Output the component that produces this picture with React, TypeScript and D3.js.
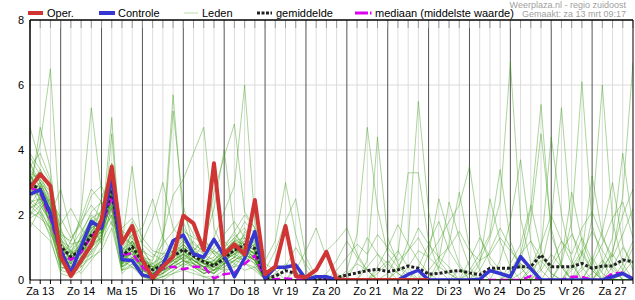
import React from "react";
import * as d3 from "d3";

const START = Date.UTC(2021, 2, 13, 6);
const END = Date.UTC(2021, 2, 28, 0);
const STEP = 6 * 3600 * 1000;

const dayLabels = ["Za 13", "Zo 14", "Ma 15", "Di 16", "Wo 17", "Do 18", "Vr 19", "Za 20", "Zo 21", "Ma 22", "Di 23", "Wo 24", "Do 25", "Vr 26", "Za 27"];
const yTicks = [0, 2, 4, 6, 8];

const oper = [2.82, 3.26, 2.89, 0.72, 0.12, 0.6, 1.08, 1.85, 3.49, 1.13, 1.66, 0.62, 0.05, 0.41, 0.72, 1.98, 1.74, 0.92, 3.59, 0.77, 1.1, 0.79, 2.46, 0.18, 0.41, 1.66, 0.12, 0.08, 0.31, 0.87, 0.02, 0, 0, 0, 0, 0, 0, 0, 0, 0];

const controle = [2.64, 2.77, 2.05, 0.92, 0.23, 1.03, 1.8, 1.59, 3.18, 0.62, 0.6, 0.15, 0.08, 0.46, 1.21, 1.38, 0.8, 0.7, 1.25, 0.74, 0.1, 0.67, 1.49, 0.05, 0.39, 0.39, 0.46, 0.02, 0.1, 0.1, 0, 0, 0, 0, 0, 0, 0, 0.17, 0.3, 0, 0, 0, 0, 0, 0.02, 0.29, 0.2, 0.1, 0.72, 0.35, 0, 0, 0, 0, 0, 0, 0, 0.1, 0.2, 0.02];

const gemiddelde = [2.97, 2.79, 2.0, 1.03, 0.72, 0.92, 1.38, 1.64, 2.77, 0.72, 1.03, 0.56, 0.31, 0.46, 0.72, 0.94, 0.74, 0.56, 0.43, 0.67, 0.92, 1.08, 0.97, 0.05, 0.12, 0.29, 0.2, 0.05, 0.05, 0.05, 0.07, 0.15, 0.22, 0.29, 0.33, 0.26, 0.31, 0.43, 0.36, 0.18, 0.2, 0.26, 0.29, 0.22, 0.16, 0.36, 0.36, 0.36, 0.41, 0.41, 0.77, 0.41, 0.41, 0.41, 0.51, 0.36, 0.43, 0.43, 0.62, 0.56];

const mediaan = [2.85, 2.7, 1.9, 0.85, 0.62, 0.85, 1.35, 1.6, 2.6, 0.77, 0.82, 0.4, 0.1, 0.36, 0.41, 0.33, 0.41, 0.41, 0.05, 0.18, 0.22, 0.5, 0.75, 0.02, 0.02, 0.05, 0.02, 0, 0, 0, 0, 0, 0, 0, 0, 0, 0, 0, 0, 0, 0, 0, 0, 0, 0, 0, 0, 0, 0, 0.12, 0, 0, 0, 0.1, 0.1, 0, 0, 0.2, 0.22, 0.05];

const leden: number[][] = [
  [4.7,3.6,3.0, 1.2,0.6,0.9, 1.3,1.8,2.4, 0.6,1.0,0.4,0.1,0.3, 0.5,0.9,0.5,0.3,0.2,0.6,0.8,1.0,1.2, 0,0,0,0.4,0,0,0,0, 0,0,0,0.3,0.6,0.2,0,0,0,0,0,0,0,0, 0,0,0,0.2,0.5,0,0,0,0.4,0.9,0.3,0,0,0,0],
  [2.6,4.7,3.4, 0.9,0.3,1.1, 1.7,1.4,3.1, 1.0,0.8,0.6,0.2,0.5, 0.9,1.3,0.8,0.6,0.4,0.9,1.1,0.7,0.5, 0,0.2,0.5,0.3,0,0,0,0, 0,0,0.4,0.8,0.5,0.2,0,0,0,0,0,0.3,0.2,0, 0,0.6,1.8,3.7,1.2,0.3,0,0,0,0,0.2,0.6,0.3,0,0],
  [3.4,3.0,2.2, 0.5,0.8,1.3, 1.9,1.6,5.0, 0.4,1.2,0.7,0.3,1.2, 5.7,1.8,0.9,0.5,0.3,0.7,0.9,1.1,0.6, 0,0,0,0,0,0.3,0.9,1.2, 1.6,0.8,0.3,0,0,0,0,0,0,0,0,0,0,0, 0,0,0,0,0,0.3,0.8,0.4,0,0,0,0,0,0.5,1.2],
  [2.2,2.5,2.0, 2.8,1.5,0.7, 1.0,1.3,2.5, 0.8,0.6,0.9,0.5,0.2, 0.6,0.4,0.7,0.5,0.9,1.2,0.8,0.6,1.4, 0,0,0,0,0,0,0,0, 0,0,0,0,0,0,0.4,0.9,0.7,1.2,1.8,2.3,3.5,1.4, 0.5,0.2,0,0,0,0,0,0,0,0.3,0.7,0.2,0,0,0],
  [3.0,4.2,6.5, 1.4,0.9,0.5, 0.9,1.9,2.9, 0.5,0.9,0.3,0.1,0.4, 0.7,0.9,1.2,0.8,0.4,0.3,0.6,0.8,0.9, 0,0,0,0,0,0,0,0, 0.3,1.4,4.7,2.2,0.8,0.4,0.2,0,0,0,0,0,0,0, 0,0,0,0,0.3,0.6,0.2,0,0,0,0,0.4,0.8,0.3,0],
  [2.0,2.3,1.8, 1.7,2.2,1.6, 1.2,2.0,2.6, 0.9,1.4,0.6,0.5,0.8, 0.9,1.6,1.1,0.9,1.3,2.1,2.9,6.0,1.8, 0.2,0,0,0,0,0,0,0, 0,0,0,0,0,0,0,0,0,0,0,0,0.3,0.8, 1.4,3.4,1.2,0.4,0,0,0,0,0,0,0,0,0,0.2,0.6],
  [3.1,3.3,2.4, 0.6,0.2,0.7, 1.5,1.7,3.4, 0.6,0.9,0.4,0.2,1.0, 5.2,2.3,1.0,0.6,0.5,0.8,1.2,0.9,0.7, 0,0,0,0,0,0,0,0, 0,0,0,0,0,0.3,1.2,5.5,2.1,0.6,0.2,0,0,0, 0,0,0,0,0,0,0,0,0.5,1.3,0.6,0,0,0,0],
  [2.8,2.6,1.7, 0.7,0.5,1.4, 2.1,2.4,2.2, 1.1,3.5,1.0,0.4,0.3, 0.4,0.6,0.9,1.3,0.8,0.5,0.7,1.5,1.1, 0,0,0,0,0,0,0,0, 0,0,0,0,0,0,0,0,0,0,0,0,0,0, 0,0,0,0.6,1.8,4.5,1.6,0.4,0,0,0,0,0,0,0],
  [2.5,2.9,2.3, 1.0,0.7,2.1, 5.3,2.7,1.9, 0.3,0.7,0.5,0.2,0.1, 0.3,0.5,0.7,1.1,2.2,4.0,1.5,0.9,0.6, 0,0,0,0,0,0,0,0, 0,0,0.6,4.4,1.3,0.5,0,0,0,0,0,0,0,0, 0,0,0.2,0.5,0.3,0,0,0,0,0,0,0,0.4,1.0,0.5],
  [3.6,2.8,1.5, 0.4,0.3,0.6, 1.1,1.5,2.6, 0.7,0.8,0.2,0,0.2, 0.4,0.8,0.5,0.2,0.3,0.6,0.9,1.3,0.9, 0,0,0,0,0,0,0,0, 0,0,0,0,0,0,0,0,0,0,0,0,0.2,0.6, 1.3,2.4,6.7,1.9,0.5,0,0,0,0,0,0,0,0,0,0],
  [2.9,3.1,2.7, 1.1,0.9,0.4, 1.8,1.1,4.5, 0.5,1.6,0.8,0.3,0.2, 0.8,1.1,0.6,0.4,0.2,0.5,1.0,0.7,1.3, 0,0,0,0,0,0,0,0, 0,0,0,0,0,0,0,0,0.3,0.7,0.4,0,0,0, 0,0,0,0.8,2.2,5.4,1.4,0.5,0,0,0,0,0,0,0],
  [3.3,2.4,1.9, 0.6,1.2,1.8, 2.3,1.9,3.0, 1.3,1.1,0.7,0.6,1.4, 2.6,3.1,3.9,4.7,1.6,0.9,0.7,1.0,0.8, 0,0,0,0,0,0,0,0, 0,0,0,0,0.2,0.8,3.3,3.3,1.2,0.3,0,0,0,0, 0,0,0,0,0,0,0,0,0,0,0,0,0,0,0],
  [2.4,2.1,1.3, 0.2,0.1,0.3, 0.9,1.2,1.8, 0.2,0.5,0.1,0,0, 0.2,0.4,0.3,0.1,0,0.2,0.5,0.8,0.6, 0,0,0,0,0,0,0,0, 0,0,0,0,0,0,0,0,0,0,0,0,0,0, 0,0,0,0,0,0.9,4.4,2.0,0.6,0,0,0,0,0,0],
  [3.8,3.2,2.9, 1.5,1.1,1.2, 1.4,2.2,3.6, 1.5,1.3,0.9,0.7,1.1, 1.5,2.0,1.4,1.0,2.7,3.8,4.8,2.1,1.6, 0.1,0,0,0,0,0,0,0, 0,0,0,0,0,0,0,0,0.8,2.5,1.4,0.5,0,0, 0,0,0,0,0,0,0,0,0,0,0,0,0,0,0],
  [2.7,2.6,2.1, 0.8,0.4,0.8, 1.3,1.6,2.8, 0.4,0.6,0.3,0.1,0.5, 0.7,1.0,0.8,0.5,0.3,0.4,0.6,0.5,0.4, 0,0,0,0,0,0,0,0, 0,0,0,0,0,0,0,0,0,0.6,2.4,1.3,0.4,0, 0,0,0,0,0,0,0,0,0,0,0,0.3,0.9,2.0,2.8],
  [2.1,1.9,1.6, 0.5,0.9,0.6, 0.8,1.4,2.0, 0.9,0.7,0.4,0.5,0.7, 1.0,0.6,0.4,0.3,0.6,0.9,1.2,1.8,1.4, 0.6,1.2,3.0,1.4,0.3,0,0,0, 0,0,0,0,0,0,0,0,0,0.4,1.1,2.7,1.0,0.3, 0,0,0,0,0,0,0,0,0,0,0,0,0,0,0],
  [3.5,3.9,3.1, 1.3,0.5,0.2, 0.6,1.0,2.3, 0.3,0.5,0.2,0,0.1, 0.3,0.5,0.4,0.2,0.4,0.7,0.5,0.3,0.4, 0,0,0,0,0,0,0,0, 0,0,0,0,0,0,0,0,0,0,0,0,0,0, 0,0,0,0,0,0.4,1.8,5.3,1.5,0.4,0,0,0,0,0],
  [1.6,2.2,2.5, 1.9,1.3,1.7, 2.6,2.9,2.1, 1.2,1.8,1.1,0.8,0.6, 0.8,1.2,0.9,0.7,1.0,1.4,1.8,1.3,1.0, 0.3,0.9,1.8,2.5,0.7,0.1,0,0, 0,0,0,0,0,0,0,0,0,0,0,0,0,0.5, 2.5,1.2,0.4,0,0,0,0,0,0,0,0,0,0,0,0],
  [3.0,2.7,1.9, 0.3,0.6,0.9, 1.6,2.5,3.3, 0.8,1.2,0.5,0.3,0.6, 0.9,1.4,0.7,0.3,0.2,0.5,0.9,1.2,0.7, 0,0,0,0,0,0,0,0, 0.2,0.5,0.3,0,0,0,0,0,0,0,0,0,0,0, 0,0,0,0,0,0,0,0.6,2.7,1.2,0.4,0,0,0,0],
  [2.3,2.0,1.4, 0.9,0.7,1.0, 1.2,1.5,2.4, 0.5,0.9,0.3,0.2,0.4, 0.6,0.8,0.6,0.4,0.5,0.8,1.1,0.9,0.6, 0,0,0,0.3,0.9,1.6,0.7,0.2, 0,0,0,0,0,0,0,0,0,0,0,0,0,0, 0,0,0.5,1.1,2.3,0.9,0.2,0,0,0,0,0,0,0,0],
  [2.9,3.4,2.8, 1.6,0.8,0.5, 0.7,1.3,2.7, 0.6,0.4,0.2,0.1,0.2, 0.5,0.7,0.4,0.2,0.3,0.5,0.7,0.6,0.8, 0,0,0,0,0,0,0,0, 0,0,0,0,0,0,0,0,0,0,0,0,0,0, 0,0,0,0,0,0,0,0.5,1.8,6.1,1.7,0.6,0,0,0],
  [2.6,2.8,2.3, 1.0,0.6,1.2, 1.9,2.1,2.9, 1.0,1.4,1.6,2.5,1.3, 0.8,0.6,0.5,0.7,0.9,0.6,0.4,0.8,0.5, 0,0,0,0,0,0,0,0, 0,0,0,0,0,0,0,0,0,0,0,0,0,0, 0,0,0,0,0,0,0,0,0,0.8,3.2,1.4,0.5,0,0],
  [3.2,2.9,2.0, 0.7,0.2,0.6, 1.4,1.8,3.0, 0.9,1.0,0.6,0.3,0.7, 1.1,0.9,0.6,0.5,0.4,0.8,1.3,1.6,1.0, 0,0,0,0,0,0,0,0, 0,0,0,0,0,0,0,0,0,0,0,0,0,0, 0,0,0,0,0,0,0,0,0,0.4,1.9,6.0,1.8,0.5,0],
  [2.4,2.5,2.2, 1.2,1.0,1.5, 2.0,1.7,2.2, 1.4,1.1,1.2,1.9,3.0, 1.6,1.2,0.8,0.6,0.5,0.7,0.9,0.8,0.6, 0,0,0,0,0,0,0,0, 0,0,0,0,0,0,0,0,0,0,0,0,0,0, 0,0,0,0,0,0,0,0,0,0,0.6,1.5,3.0,1.1,0.3],
  [3.1,2.6,1.7, 0.4,0.3,0.5, 1.0,1.4,2.5, 0.4,0.7,0.3,0.1,0.2, 0.4,0.6,0.5,0.3,0.2,0.4,0.6,0.9,0.7, 0,0,0,0,0,0,0,0, 0,0,0,0.2,0.5,0.9,0.4,0,0,0,0,0,0,0, 0,0,0,0,0,0,0,0,0,0,0,0.5,1.3,3.9,1.6],
  [2.7,3.0,2.4, 0.9,0.5,0.8, 1.3,1.6,2.8, 0.6,0.8,0.4,0.2,0.3, 0.5,0.7,0.6,0.4,0.5,0.8,1.0,1.2,0.9, 0,0,0,0,0,0,0,0, 0,0,0,0,0,0,0,0,0,0,0,0,0,0, 0,0,0,0,0,0,0,0,0,0,0,0,0.8,2.6,6.7],
  [3.3,3.1,2.5, 1.3,0.8,1.0, 1.7,2.0,3.2, 0.7,1.0,0.5,0.3,0.6, 0.8,1.0,0.7,0.5,0.6,1.0,1.3,1.0,0.8, 0,0,0.4,1.0,0.5,0,0,0, 0,0,0,0,0,0,0,0,0,0,0,0,0,0, 0,0,0,0,0,0,0,0,0,0,0,0,0,0,0],
  [2.2,2.4,1.8, 0.6,0.4,0.9, 1.5,1.9,2.7, 0.9,1.3,0.7,0.4,0.5, 0.7,1.1,0.8,0.6,0.7,1.1,1.4,1.1,0.9, 0,0,0,0,0,0,0,0, 0,0.6,1.3,0.8,0.3,0,0,0,0,0,0,0,0,0, 0,0,0,0,0,0,0,0,0,0,0,0,0,0,0],
  [1.9,2.1,1.6, 0.8,0.9,1.3, 1.8,1.5,2.0, 0.7,0.9,0.6,0.4,0.3, 0.5,0.8,1.0,0.8,0.6,0.5,0.7,0.9,1.1, 0.2,0,0,0,0,0,0,0, 0,0,0,0,0,0,0,0,0,0,0,0,0,0, 0,0,0,0,0,0,0,0,0,0,0,0,0,0,0],
  [3.9,3.4,2.7, 1.1,0.6,0.7, 1.2,1.4,2.4, 0.5,0.6,0.3,0.2,0.4, 0.6,0.9,0.7,0.4,0.3,0.6,0.8,1.1,0.8, 0,0,0,0,0,0,0,0, 0,0,0,0,0,0,0,0,0,0,0,0,0,0, 0,0,0,0,0,0,0,0,0,0,0,0,0,0,0],
  [2.5,2.2,1.5, 0.5,0.3,0.7, 1.1,1.3,2.2, 0.4,0.6,0.2,0.1,0.3, 0.4,0.6,0.4,0.2,0.3,0.5,0.6,0.8,0.6, 0,0,0,0,0,0,0,0.3, 0.7,1.1,0.8,1.4,1.0,0.6,0.9,1.3,0.7,0.4,0.2,0,0,0, 0,0,0.3,0.8,1.2,0.7,0.4,0.9,1.4,0.8,0.3,0,0,0,0],
  [2.8,2.9,2.1, 0.8,0.6,1.1, 1.6,1.8,2.6, 0.8,1.1,0.6,0.3,0.5, 0.7,0.9,0.6,0.4,0.5,0.7,0.9,1.0,0.8, 0,0,0,0,0,0,0,0, 0,0,0,0,0,0.4,0.9,1.6,1.1,0.7,1.0,1.5,0.9,0.6, 0.8,1.3,0.9,0.5,0.3,0,0,0,0,0,0,0,0,0,0],
  [3.0,2.5,1.9, 0.6,0.5,0.9, 1.4,1.7,2.5, 0.7,0.9,0.5,0.3,0.4, 0.6,0.8,0.5,0.4,0.4,0.6,0.8,0.9,0.7, 0,0,0,0,0,0,0,0, 0,0,0,0,0,0,0,0,0,0,0,0,0,0, 0,0,0,0,0,0,0.5,1.2,0.8,1.6,2.1,1.3,0.7,1.4,2.2],
  [2.0,2.6,2.2, 1.4,1.2,1.9, 2.8,2.4,1.7, 1.6,1.9,1.3,0.9,0.8, 1.2,1.5,1.3,1.1,0.8,1.0,1.5,2.0,1.6, 0.5,0.3,0,0,0,0,0,0, 0,0,0,0,0,0,0,0,0,0,0,0,0,0, 0,0,0,0,0,0,0,0,0,0,0,0,0,0,0],
  [3.6,3.0,2.3, 0.9,0.4,0.6, 1.0,1.6,3.5, 0.6,0.7,0.4,0.2,0.3, 0.5,0.7,0.9,1.2,0.9,0.7,1.0,1.4,1.2, 0,0,0,0,0,0,0,0, 0,0,0,0,0,0,0,0,0,0,0,0,0,0, 0,0,0,0,0,0,0,0,0,0,0,0,0,0,0],
  [1.8,1.5,1.2, 0.3,0.2,0.4, 0.7,0.9,1.6, 0.3,0.4,0.1,0,0.1, 0.2,0.3,0.2,0.1,0.1,0.3,0.4,0.5,0.3, 0,0,0,0,0,0,0,0, 0,0,0,0,0,0,0,0,0,0,0,0,0,0, 0,0,0,0,0,0,0,0,0,0,0,0,0,0,0],
  [2.6,3.0,2.6, 1.0,0.7,1.0, 1.5,1.9,2.9, 0.8,1.0,0.5,0.3,0.5, 0.7,1.0,0.7,0.5,0.6,0.9,1.1,1.0,0.8, 0,0,0,0,0,0,0.2,0.6, 1.2,0.7,0.3,0,0,0,0,0.4,1.1,1.8,0.9,0.4,0,0, 0,0,0,0,0,0,0,0,0.3,0.8,1.5,0.9,0.4,0,0],
  [3.2,2.7,2.2, 0.9,0.5,1.2, 1.7,2.1,2.6, 0.7,1.2,0.6,0.4,0.6, 0.9,1.2,0.9,0.6,0.5,0.8,1.2,1.1,0.9, 0,0,0,0,0,0,0,0, 0,0,0,0.4,1.0,1.7,1.1,0.6,0.2,0,0,0,0,0.3, 0.9,1.6,1.0,0.4,0,0,0,0,0,0,0,0,0,0.3,1.0],
  [2.9,2.3,1.8, 0.7,0.6,0.8, 1.2,1.5,2.3, 0.6,0.9,0.4,0.2,0.3, 0.6,0.8,0.6,0.4,0.4,0.7,0.9,0.8,0.6, 0,0,0,0,0,0,0,0, 0,0,0,0,0,0,0,0,0,0,0,0,0.6,1.3, 0.7,0.3,0,0,0.4,1.1,2.0,1.2,0.5,0,0,0,0,0,0],
  [2.3,2.8,2.4, 1.1,0.8,1.1, 1.6,1.8,3.0, 0.9,1.2,0.7,0.4,0.6, 0.8,1.1,0.8,0.6,0.5,0.9,1.2,1.3,1.0, 0,0,0,0,0,0,0,0, 0,0,0,0,0,0,0,0,0,0,0,0,0,0, 0,0,0,0,0,0,0,0,0,0,0.5,1.1,1.9,2.4,1.3],
];

const FONT = "'Liberation Sans', Arial, Helvetica, sans-serif";
const L = 30, R = 633, T = 20, B = 280;

export default function App() {
  const x = d3.scaleUtc().domain([new Date(START), new Date(END)]).range([L, R]);
  const y = d3.scaleLinear().domain([0, 8]).range([B, T]);
  const t = (i: number) => new Date(START + i * STEP);
  const line = d3.line<number>().x((_, i) => x(t(i))).y((d) => y(d));

  const sixHours = d3.utcHour.every(6)!.range(new Date(START), new Date(END + 1));
  const days = d3.utcDay.range(new Date(Date.UTC(2021, 2, 13)), new Date(Date.UTC(2021, 2, 28)));

  const gridLight = sixHours.filter((d) => d.getUTCHours() !== 0 && +d !== START);
  const gridDay = sixHours.filter((d) => d.getUTCHours() === 0 && +d !== END);

  return (
    <svg width={635} height={300} style={{ position: "absolute", left: 0, top: 0, background: "#fff" }} fontFamily={FONT}>
      <defs>
        <clipPath id="plot">
          <rect x={L} y={T} width={R - L} height={B - T} />
        </clipPath>
      </defs>
      <rect x={0} y={0} width={635} height={300} fill="#fff" />
      {yTicks.filter((v) => v > 0 && v < 8).map((v) => (
        <line key={"h" + v} x1={L} x2={R} y1={y(v)} y2={y(v)} stroke="#dcdcdc" strokeWidth={1} />
      ))}
      {gridLight.map((d) => (
        <line key={"g" + +d} x1={x(d)} x2={x(d)} y1={T} y2={B} stroke="#dcdcdc" strokeWidth={1} />
      ))}
      {gridDay.map((d) => (
        <line key={"d" + +d} x1={x(d)} x2={x(d)} y1={T} y2={B} stroke="#555" strokeWidth={1} />
      ))}
      {sixHours.map((d) => (
        <line key={"tt" + +d} x1={x(d)} x2={x(d)} y1={T} y2={T + 8} stroke="#999" strokeWidth={1} />
      ))}
      <g clipPath="url(#plot)" fill="none" strokeLinejoin="round">
        {leden.map((m, k) => (
          <path key={"m" + k} d={line(m) || ""} stroke="#3a9c14" strokeOpacity={0.42} strokeWidth={1} />
        ))}
        <path d={line(mediaan) || ""} stroke="#dd00ee" strokeWidth={2.5} strokeDasharray="8,4" />
        <path d={line(gemiddelde) || ""} stroke="#222" strokeWidth={3} strokeDasharray="3,2" />
        <path d={line(controle) || ""} stroke="#3636d0" strokeWidth={3.5} />
        <path d={line(oper) || ""} stroke="#d03535" strokeWidth={4} />
      </g>
      <line x1={L} x2={R} y1={T} y2={T} stroke="#000" strokeWidth={1.5} />
      <line x1={L} x2={R} y1={B} y2={B} stroke="#000" strokeWidth={1} />
      <line x1={L} x2={L} y1={T} y2={B} stroke="#000" strokeWidth={1.5} />
      <line x1={R} x2={R} y1={T} y2={B} stroke="#000" strokeWidth={1} />
      {sixHours.map((d) => (
        <line key={"bt" + +d} x1={x(d)} x2={x(d)} y1={B} y2={B + 4} stroke="#000" strokeWidth={1} />
      ))}
      {yTicks.map((v) => (
        <text key={"y" + v} x={24} y={y(v) + 4} textAnchor="end" fontSize={11} fill="#000">{v}</text>
      ))}
      {days.map((d, i) => (
        <text key={"x" + i} x={x(new Date(+d + 12 * 3600 * 1000))} y={295} textAnchor="middle" fontSize={11} fill="#000">{dayLabels[i]}</text>
      ))}
      <g fontSize={11} fill="#000">
        <line x1={28} x2={43} y1={13} y2={13} stroke="#d03535" strokeWidth={4} />
        <text x={47} y={17}>Oper.</text>
        <line x1={99} x2={115} y1={13} y2={13} stroke="#3636d0" strokeWidth={4} />
        <text x={118} y={17}>Controle</text>
        <line x1={184} x2={198} y1={13} y2={13} stroke="#b8dcaa" strokeWidth={1} />
        <text x={202} y={17}>Leden</text>
        <line x1={257} x2={272} y1={13} y2={13} stroke="#222" strokeWidth={3} strokeDasharray="3,1.5" />
        <text x={276} y={17}>gemiddelde</text>
        <line x1={355} x2={368} y1={13} y2={13} stroke="#dd00ee" strokeWidth={3} />
        <line x1={370} x2={371.5} y1={13} y2={13} stroke="#dd00ee" strokeWidth={3} />
        <text x={375} y={17}>mediaan (middelste waarde)</text>
      </g>
      <text x={626} y={7.5} textAnchor="end" fontSize={9} fill="#a0a0a0">Weerplaza.nl - regio zuidoost</text>
      <text x={626} y={17} textAnchor="end" fontSize={9} fill="#a0a0a0">Gemaakt: za 13 mrt 09:17</text>
    </svg>
  );
}
